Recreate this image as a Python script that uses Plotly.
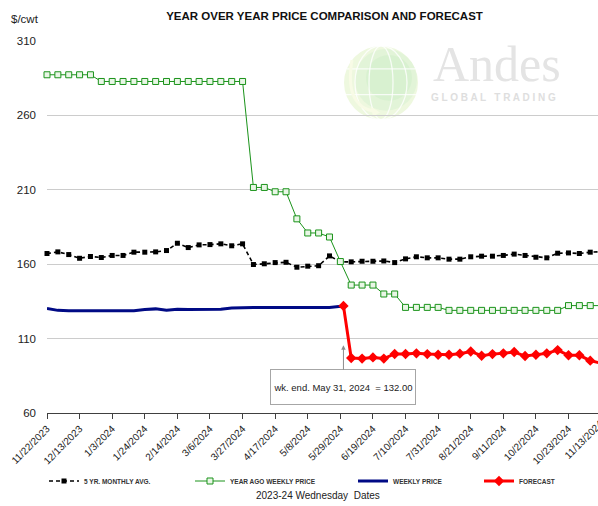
import pandas as pd
import plotly.graph_objects as go

# ---------------- data ----------------
week_dates = pd.date_range("2023-11-22", periods=52, freq="7D")

five_yr_avg = [
    167.2, 168.3, 166.5, 164.0, 165.2, 164.5, 165.9, 165.9, 168.1, 168.1,
    168.3, 169.2, 174.1, 171.2, 173.0, 173.2, 173.7, 172.4, 173.7, 159.8,
    160.3, 161.1, 161.3, 158.0, 158.7, 159.0, 165.6, 161.6, 161.6, 162.0,
    162.0, 162.2, 161.1, 163.6, 165.0, 164.3, 164.3, 163.4, 163.4, 165.0,
    165.4, 165.4, 165.9, 166.8, 165.9, 164.7, 164.3, 167.4, 167.6, 167.2,
    168.1, 168.4,
]

year_ago = (
    [287.3] * 5 + [282.8] * 14
    + [211.6, 211.6, 208.7, 208.7, 190.5, 181.0, 181.0, 178.3, 161.8,
       146.0, 146.0, 146.0, 140.0, 140.0, 131.0, 131.0, 131.0, 131.0]
    + [129.0] * 11 + [132.2] * 4
)

weekly_dates = list(week_dates[:27]) + [pd.Timestamp("2024-05-31")]
weekly_price = [
    130.2, 129.0, 128.8, 128.8, 128.8, 128.8, 128.8, 128.8, 128.8, 129.6,
    130.0, 129.0, 129.8, 129.6, 129.7, 129.7, 129.7, 130.6, 130.9, 130.9,
    130.9, 130.9, 130.9, 130.9, 130.9, 131.0, 131.0, 132.0,
]

forecast_dates = [pd.Timestamp("2024-05-31")] + list(week_dates[28:])
forecast = [
    132.0, 97.0, 96.6, 97.4, 96.6, 99.7, 99.7, 100.1, 99.6, 99.2,
    99.2, 99.9, 101.4, 98.5, 99.6, 100.1, 101.0, 98.3, 99.2, 100.1,
    102.3, 98.8, 98.8, 95.2, 93.5,
]

tick_dates = pd.date_range("2023-11-22", "2024-11-13", freq="21D")
tick_text = [f"{d.month}/{d.day}/{d.year}" for d in tick_dates]
y_ticks = [60, 110, 160, 210, 260, 310]

callout_date = pd.Timestamp("2024-05-31")
callout_value = 132.00

# ---------------- layout constants ----------------
W, H = 598, 506
M_L, M_R, M_T, M_B = 47, 0, 41, 91
X_START, X_END = pd.Timestamp("2023-11-22"), pd.Timestamp("2024-11-11")
FONT = "Liberation Sans"
TXT = "#222222"


def paper(x, y):
    """pixel position -> paper fraction"""
    return ((x - M_L) / (W - M_L - M_R), (H - M_B - y) / (H - M_T - M_B))


fig = go.Figure()

fig.add_trace(go.Scatter(
    x=week_dates, y=five_yr_avg, name="5 YR. MONTHLY AVG.", mode="lines+markers",
    line=dict(color="#000000", width=1.6, dash="4px,3px"),
    marker=dict(symbol="square", size=5, color="#000000"),
    cliponaxis=False, legend="legend",
))
fig.add_trace(go.Scatter(
    x=week_dates, y=year_ago, name="YEAR AGO WEEKLY PRICE", mode="lines+markers",
    line=dict(color="#1a931a", width=1),
    marker=dict(symbol="square", size=6, color="#e9f6e6",
                line=dict(color="#1a931a", width=1)),
    cliponaxis=False, legend="legend2",
))
fig.add_trace(go.Scatter(
    x=weekly_dates, y=weekly_price, name="WEEKLY PRICE", mode="lines",
    line=dict(color="#000a85", width=3),
    cliponaxis=False, legend="legend3",
))
fig.add_trace(go.Scatter(
    x=forecast_dates, y=forecast, name="FORECAST", mode="lines+markers",
    line=dict(color="#ff0000", width=3),
    marker=dict(symbol="diamond", size=8, color="#ff0000"),
    cliponaxis=False, legend="legend4",
))

# ---------------- logo (globe + wordmark) ----------------
shapes = []


def circ(cx, cy, r, fill, line=None, lw=0, opacity=1.0):
    x0, y0 = paper(cx - r[0], cy + r[1])
    x1, y1 = paper(cx + r[0], cy - r[1])
    shapes.append(dict(type="circle", xref="paper", yref="paper",
                       x0=x0, y0=y0, x1=x1, y1=y1, layer="below",
                       fillcolor=fill, opacity=opacity,
                       line=dict(color=line or "rgba(0,0,0,0)", width=lw)))


GX, GY, GR = 381, 83, 37
circ(GX, GY, (GR, GR), "#eef8df")
circ(GX + 5, GY - 3, (31, 31), "#e2f4d8")
circ(GX + 8, GY - 5, (23, 23), "#d8f1d0")
for rx in (12, 26):
    circ(GX, GY, (rx, GR), None, "rgba(255,255,255,0.8)", 1.3)
for dy in (-14, 12):
    hw = (GR ** 2 - dy ** 2) ** 0.5
    x0, y0 = paper(GX - hw, GY + dy)
    x1, y1 = paper(GX + hw, GY + dy)
    shapes.append(dict(type="line", xref="paper", yref="paper", x0=x0, y0=y0,
                       x1=x1, y1=y1, layer="below",
                       line=dict(color="rgba(255,255,255,0.8)", width=1.3)))
# swoosh arrow on the left of the globe
p0, pc, p1 = paper(352, 60), paper(344, 108), paper(376, 112)
shapes.append(dict(type="path", xref="paper", yref="paper", layer="below",
                   path=f"M{p0[0]},{p0[1]} Q{pc[0]},{pc[1]} {p1[0]},{p1[1]}",
                   line=dict(color="#f8fbe6", width=3)))
a, b, c = paper(380, 113), paper(371, 107), paper(373, 117)
shapes.append(dict(type="path", xref="paper", yref="paper", layer="below",
                   path=f"M{a[0]},{a[1]} L{b[0]},{b[1]} L{c[0]},{c[1]} Z",
                   fillcolor="#f8fbe6", line=dict(width=0)))

annotations = []
ax_, ay_ = paper(497, 64)
annotations.append(dict(xref="paper", yref="paper", x=ax_, y=ay_, text="Andes",
                        showarrow=False, xanchor="center", yanchor="middle",
                        font=dict(family="Liberation Serif", size=50, color="#e4e4e4")))
gx_, gy_ = paper(493, 98)
annotations.append(dict(xref="paper", yref="paper", x=gx_, y=gy_,
                        text="G L O B A L   T R A D I N G", showarrow=False,
                        xanchor="center", yanchor="middle",
                        font=dict(family=FONT, size=10, color="#dedede", weight="bold")))

# ---------------- text annotations ----------------
annotations.append(dict(xref="paper", yref="paper", x=paper(25, 19)[0], y=paper(25, 19)[1],
                        text="$/cwt", showarrow=False, xanchor="center", yanchor="middle",
                        font=dict(family=FONT, size=11.5, color=TXT)))
tx, ty = paper(318, 498)
annotations.append(dict(xref="paper", yref="paper", x=tx, y=ty,
                        text="2023-24 Wednesday\u00a0 Dates", showarrow=False,
                        xanchor="center", yanchor="middle",
                        font=dict(family=FONT, size=10, color=TXT)))

# callout for the last reported week
annotations.append(dict(
    x=callout_date, y=105.6, xref="x", yref="y",
    text=f"wk. end. May 31, 2024\u00a0 = {callout_value:.2f}",
    showarrow=True, arrowhead=2, arrowsize=0.9, arrowwidth=1, arrowcolor="#8c8c8c",
    ax=0, ay=42, axref="pixel", ayref="pixel", standoff=0,
    width=142, height=32, bgcolor="#ffffff", bordercolor="#a6a6a6", borderwidth=1,
    font=dict(family=FONT, size=9.5, color=TXT),
))

# label of the final tick, which falls just past the right edge
last_tick = tick_dates[-1]
span = (X_END - X_START).total_seconds()
frac = (last_tick - X_START).total_seconds() / span
plot_w = W - M_L - M_R
L = 52
cx = M_L + frac * plot_w - L / 2 * 0.7071 + 1
cy = H - M_B + 8 + L / 2 * 0.7071
px_, py_ = paper(cx, cy)
annotations.append(dict(xref="paper", yref="paper", x=px_, y=py_, text=tick_text[-1],
                        textangle=-45, showarrow=False, xanchor="center", yanchor="middle",
                        font=dict(family=FONT, size=10, color=TXT)))

legend_common = dict(xref="container", yref="container", xanchor="left", yanchor="middle",
                     orientation="h", bgcolor="rgba(0,0,0,0)", borderwidth=0,
                     font=dict(family=FONT, size=6.5, color="#333333", weight="bold"),
                     itemwidth=30)
ly = 1 - 481 / H

fig.update_layout(
    width=W, height=H,
    margin=dict(l=M_L, r=M_R, t=M_T, b=M_B, pad=0),
    paper_bgcolor="#ffffff", plot_bgcolor="#ffffff",
    title=dict(text="YEAR OVER YEAR PRICE COMPARISON AND FORECAST",
               x=324.5 / W, xref="container", xanchor="center",
               y=1 - 16 / H, yref="container", yanchor="middle",
               font=dict(family=FONT, size=11.5, color="#111111", weight="bold")),
    xaxis=dict(type="date", range=[X_START, X_END],
               tickvals=list(tick_dates), ticktext=tick_text, tickangle=-45,
               tickfont=dict(family=FONT, size=10, color=TXT),
               showgrid=False, zeroline=False,
               showline=True, linecolor="#404040", linewidth=1.2,
               ticks="outside", ticklen=5, tickcolor="#404040", tickwidth=1),
    yaxis=dict(range=[60, 310], tickvals=y_ticks,
               tickfont=dict(family=FONT, size=11.5, color=TXT),
               showgrid=True, gridcolor="#cccccc", gridwidth=1,
               zeroline=False, showline=False, ticks="", ticklabelstandoff=10),
    showlegend=True,
    legend=dict(legend_common, x=(86 - 42) / W, y=ly),
    legend2=dict(legend_common, x=(232 - 42) / W, y=ly),
    legend3=dict(legend_common, x=(395 - 42) / W, y=ly),
    legend4=dict(legend_common, x=(521 - 42) / W, y=ly),
    shapes=shapes,
    annotations=annotations,
)

fig.write_html("out.html")
